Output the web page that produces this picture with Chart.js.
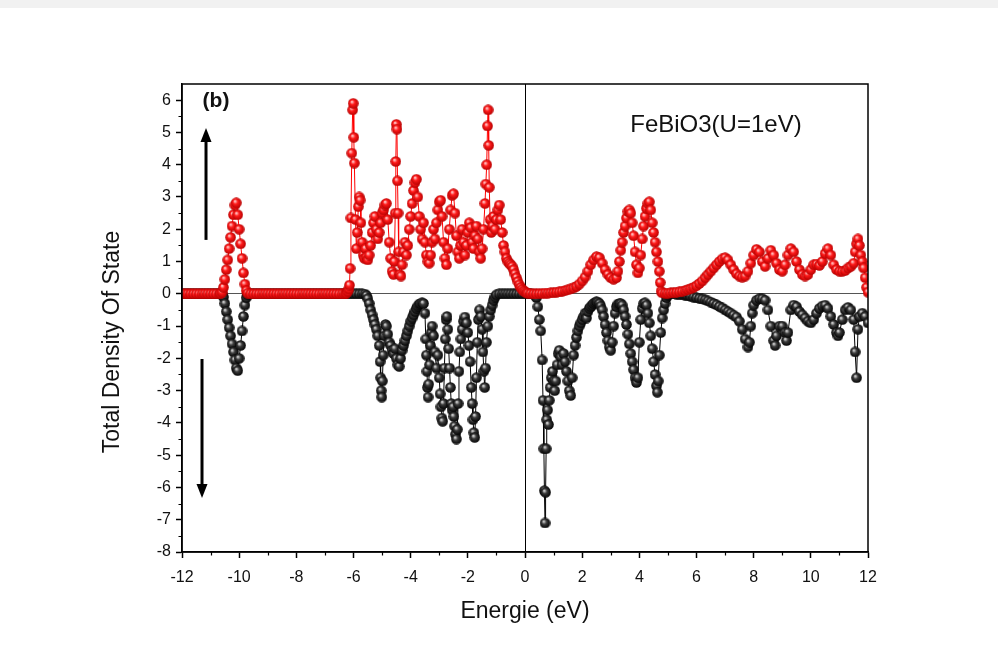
<!DOCTYPE html>
<html>
<head>
<meta charset="utf-8">
<title>FeBiO3 total DOS</title>
<script src="https://cdn.jsdelivr.net/npm/chart.js@4.4.1/dist/chart.umd.min.js"></script>
<style>
  html, body { margin: 0; padding: 0; background: #fff; }
  #strip { position: absolute; left: 0; top: 0; width: 998px; height: 8px; background: #f1f1f1; }
  #wrap { position: absolute; left: 0; top: 0; width: 998px; height: 657px; }
</style>
</head>
<body>
<div id="strip"></div>
<div id="wrap"><canvas id="dosChart"></canvas></div>
<script>
// spin up (red) - energy in eV and DOS
const upEnergy = [
  -12.0, -11.9, -11.8, -11.7, -11.6, -11.5, -11.4, -11.3, -11.2, -11.1,
  -11.0, -10.9, -10.8, -10.7, -10.65,
  -10.6, -10.55, -10.5, -10.45, -10.4, -10.35, -10.3, -10.25, -10.2, -10.15,
  -10.1, -10.05, -10.0, -9.95, -9.9, -9.85, -9.8, -9.75, -9.7, -9.6,
  -9.5, -9.4, -9.3, -9.2, -9.1, -9.0, -8.9, -8.8, -8.7, -8.6,
  -8.5, -8.4, -8.3, -8.2, -8.1, -8.0, -7.9, -7.8, -7.7, -7.6,
  -7.5, -7.4, -7.3, -7.2, -7.1, -7.0, -6.9, -6.8, -6.7, -6.6,
  -6.5, -6.4, -6.3, -6.25, -6.2, -6.16, -6.14, -6.12, -6.09, -6.06,
  -6.03, -6.01, -5.99, -5.97, -5.93, -5.9, -5.87, -5.83, -5.8, -5.77,
  -5.74, -5.7, -5.66, -5.62, -5.58, -5.54, -5.5, -5.45, -5.4, -5.35,
  -5.3, -5.25, -5.2, -5.15, -5.1, -5.05, -5.0, -4.95, -4.9, -4.85,
  -4.8, -4.75, -4.7, -4.65, -4.6, -4.57, -4.54, -4.52, -4.5, -4.48,
  -4.46, -4.44, -4.42, -4.38, -4.34, -4.3, -4.25, -4.2, -4.15, -4.1,
  -4.05, -4.0, -3.95, -3.9, -3.85, -3.8, -3.75, -3.7, -3.65, -3.6,
  -3.55, -3.5, -3.45, -3.4, -3.35, -3.3, -3.25, -3.2, -3.15, -3.1,
  -3.05, -3.0, -2.95, -2.9, -2.85, -2.8, -2.75, -2.7, -2.65, -2.6,
  -2.55, -2.5, -2.45, -2.4, -2.35, -2.3, -2.25, -2.2, -2.15, -2.1,
  -2.05, -2.0, -1.95, -1.9, -1.85, -1.8, -1.75, -1.7, -1.65, -1.6,
  -1.55, -1.5, -1.45, -1.4, -1.37, -1.34, -1.31, -1.29, -1.27, -1.25,
  -1.22, -1.18, -1.14, -1.1, -1.05, -1.0, -0.95, -0.9, -0.85, -0.8,
  -0.75, -0.7, -0.65, -0.6, -0.55, -0.5, -0.45, -0.4, -0.35, -0.3,
  -0.25, -0.2, -0.15, -0.1, -0.05, 0.0, 0.05, 0.1, 0.2, 0.3,
  0.4, 0.5, 0.6, 0.7, 0.8, 0.9, 1.0, 1.1, 1.2, 1.3,
  1.4, 1.5, 1.6, 1.7, 1.8, 1.9, 2.0, 2.1, 2.2, 2.3,
  2.4, 2.5, 2.6, 2.7, 2.8, 2.9, 3.0, 3.1, 3.2, 3.25,
  3.3, 3.35, 3.4, 3.45, 3.5, 3.55, 3.6, 3.65, 3.7, 3.75,
  3.8, 3.85, 3.9, 3.95, 4.0, 4.05, 4.1, 4.15, 4.2, 4.25,
  4.3, 4.35, 4.4, 4.45, 4.5, 4.55, 4.6, 4.65, 4.7, 4.73,
  4.76, 4.8, 4.9, 5.0, 5.1, 5.2, 5.3, 5.4, 5.5, 5.6,
  5.7, 5.8, 5.9, 6.0, 6.1, 6.2, 6.3, 6.4, 6.5, 6.6,
  6.7, 6.8, 6.9, 7.0, 7.1, 7.2, 7.3, 7.4, 7.5, 7.6,
  7.7, 7.8, 7.9, 8.0, 8.1, 8.2, 8.3, 8.4, 8.5, 8.6,
  8.7, 8.8, 8.9, 9.0, 9.1, 9.2, 9.3, 9.4, 9.5, 9.6,
  9.7, 9.8, 9.9, 10.0, 10.1, 10.2, 10.3, 10.4, 10.5, 10.6,
  10.7, 10.8, 10.9, 11.0, 11.1, 11.2, 11.3, 11.4, 11.5, 11.55,
  11.6, 11.65, 11.7, 11.75, 11.8, 11.85, 11.9, 11.95, 12.0
];
const upDOS = [
  0, 0, 0, 0, 0, 0, 0, 0, 0, 0,
  0, 0, 0, 0, 0.01,
  0.05, 0.2, 0.45, 0.75, 1.05, 1.4, 1.75, 2.1, 2.45, 2.75,
  2.82, 2.45, 2.0, 1.55, 1.1, 0.65, 0.3, 0.1, 0.02, 0,
  0, 0, 0, 0, 0, 0, 0, 0, 0, 0,
  0, 0, 0, 0, 0, 0, 0, 0, 0, 0,
  0, 0, 0, 0, 0, 0, 0, 0, 0, 0,
  0, 0, 0, 0.02, 0.08, 0.15, 0.27, 0.79, 2.35, 4.36,
  5.7, 5.9, 4.85, 4.05, 2.3, 1.4, 1.9, 2.7, 3.0, 2.9,
  2.2, 1.6, 1.2, 1.1, 1.4, 1.15, 1.05, 1.2, 1.5, 1.9,
  2.2, 2.4, 2.0, 1.7, 1.9, 2.2, 2.5, 2.6, 2.75, 2.8,
  2.3, 1.6, 1.1, 0.7, 0.6, 1.0, 2.5, 4.1, 5.25, 5.1,
  3.5, 2.5, 1.3, 0.6, 0.55, 0.9, 1.3, 1.6, 1.2, 1.5,
  2.0, 2.4, 2.8, 3.2, 3.45, 3.55, 3.0, 2.4, 2.0, 1.7,
  2.2, 1.6, 1.2, 1.0, 0.95, 1.2, 1.6, 2.0, 1.7, 2.2,
  2.6, 2.85, 2.9, 2.4, 1.6, 1.1, 0.9, 1.4, 2.0, 2.6,
  3.05, 3.1, 2.5, 1.8, 1.3, 1.1, 1.5, 2.0, 1.6, 1.2,
  1.5, 1.9, 2.2, 2.05, 1.6, 1.4, 1.8, 2.1, 1.7, 1.3,
  1.1, 1.4, 2.0, 2.8, 3.4, 4.0, 5.2, 5.7, 4.6, 3.3,
  2.3, 1.9, 2.1, 2.4, 2.0, 2.3, 2.6, 2.75, 2.3, 1.9,
  1.5, 1.3, 1.1, 1.0, 0.95, 0.9, 0.85, 0.75, 0.62, 0.5,
  0.38, 0.28, 0.2, 0.14, 0.09, 0.06, 0.03, 0.02, 0.01, 0,
  0, 0.01, 0.01, 0.02, 0.02, 0.03, 0.04, 0.05, 0.06, 0.08,
  0.1, 0.12, 0.15, 0.18, 0.23, 0.3, 0.4, 0.52, 0.7, 0.9,
  1.05, 1.15, 1.12, 0.95, 0.75, 0.6, 0.5, 0.45, 0.5, 0.7,
  1.0, 1.35, 1.6, 1.9, 2.1, 2.35, 2.55, 2.6, 2.5, 2.2,
  1.8, 1.3, 0.9, 0.65, 0.8, 1.2, 1.7, 2.1, 2.4, 2.65,
  2.8, 2.85, 2.6, 2.2, 1.9, 1.6, 1.3, 1.0, 0.7, 0.35,
  0.08, 0.03, 0.02, 0.02, 0.03, 0.04, 0.05, 0.06, 0.08, 0.1,
  0.13, 0.16, 0.2, 0.25, 0.32, 0.4, 0.5, 0.6, 0.7, 0.8,
  0.9, 1.0, 1.08, 1.12, 1.05, 0.9, 0.75, 0.62, 0.55, 0.52,
  0.55, 0.7, 0.95, 1.2, 1.38, 1.3, 1.0, 0.85, 1.1, 1.35,
  1.2, 0.95, 0.75, 0.7, 0.9, 1.2, 1.4, 1.3, 1.0, 0.75,
  0.6, 0.55, 0.6, 0.75, 0.9, 0.92, 0.88, 1.0, 1.25, 1.4,
  1.2, 0.9, 0.75, 0.7, 0.7, 0.72, 0.8, 0.85, 0.95, 1.3,
  1.55, 1.7, 1.5, 1.2, 1.0, 0.8, 0.5, 0.2, 0.05
];

// spin down (black)
const downEnergy = [
  -12.0, -11.9, -11.8, -11.7, -11.6, -11.5, -11.4, -11.3, -11.2, -11.1,
  -11.0, -10.9, -10.8, -10.7, -10.6,
  -10.55, -10.5, -10.45, -10.4, -10.35, -10.3, -10.25, -10.2, -10.15, -10.1,
  -10.05, -10.0, -9.95, -9.9, -9.85, -9.8, -9.75, -9.7, -9.6, -9.5,
  -9.4, -9.3, -9.2, -9.1, -9.0, -8.9, -8.8, -8.7, -8.6, -8.5,
  -8.4, -8.3, -8.2, -8.1, -8.0, -7.9, -7.8, -7.7, -7.6, -7.5,
  -7.4, -7.3, -7.2, -7.1, -7.0, -6.9, -6.8, -6.7, -6.6, -6.5,
  -6.4, -6.3, -6.2, -6.1, -6.0, -5.9, -5.8, -5.7, -5.6, -5.55,
  -5.5, -5.45, -5.4, -5.35, -5.3, -5.25, -5.2, -5.15, -5.1, -5.07,
  -5.05, -5.03, -5.01, -4.99, -4.96, -4.92, -4.88, -4.85, -4.8, -4.75,
  -4.7, -4.65, -4.6, -4.55, -4.5, -4.45, -4.4, -4.35, -4.3, -4.25,
  -4.2, -4.15, -4.1, -4.05, -4.0, -3.95, -3.9, -3.85, -3.8, -3.75,
  -3.7, -3.65, -3.6, -3.55, -3.5, -3.47, -3.45, -3.43, -3.41, -3.39,
  -3.37, -3.34, -3.31, -3.28, -3.25, -3.2, -3.15, -3.1, -3.05, -3.0,
  -2.97, -2.94, -2.91, -2.88, -2.85, -2.82, -2.79, -2.76, -2.73, -2.7,
  -2.67, -2.64, -2.61, -2.58, -2.55, -2.52, -2.49, -2.46, -2.43, -2.4,
  -2.37, -2.34, -2.31, -2.28, -2.24, -2.2, -2.15, -2.1, -2.05, -2.0,
  -1.96, -1.92, -1.88, -1.85, -1.82, -1.79, -1.76, -1.73, -1.7, -1.67,
  -1.63, -1.59, -1.55, -1.5, -1.47, -1.44, -1.41, -1.38, -1.35, -1.3,
  -1.25, -1.2, -1.15, -1.1, -1.05, -1.0, -0.9, -0.8, -0.7, -0.6,
  -0.5, -0.4, -0.3, -0.2, -0.1, 0.0, 0.1, 0.2, 0.3, 0.35,
  0.4, 0.45, 0.5, 0.55, 0.6, 0.63, 0.66, 0.68, 0.7, 0.72,
  0.74, 0.76, 0.79, 0.82, 0.85, 0.88, 0.92, 0.96, 1.0, 1.04,
  1.08, 1.12, 1.16, 1.2, 1.25, 1.3, 1.35, 1.4, 1.45, 1.5,
  1.55, 1.6, 1.65, 1.7, 1.75, 1.8, 1.85, 1.9, 1.95, 2.0,
  2.05, 2.1, 2.15, 2.2, 2.25, 2.3, 2.35, 2.4, 2.45, 2.5,
  2.55, 2.6, 2.65, 2.7, 2.75, 2.8, 2.85, 2.9, 2.95, 3.0,
  3.05, 3.1, 3.15, 3.2, 3.25, 3.3, 3.35, 3.4, 3.45, 3.5,
  3.55, 3.6, 3.65, 3.7, 3.75, 3.8, 3.85, 3.9, 3.95, 4.0,
  4.05, 4.1, 4.15, 4.2, 4.25, 4.3, 4.35, 4.4, 4.45, 4.5,
  4.55, 4.6, 4.63, 4.66, 4.7, 4.75, 4.8, 4.85, 4.9, 4.95,
  5.0, 5.1, 5.2, 5.3, 5.4, 5.5, 5.6, 5.7, 5.8, 5.9,
  6.0, 6.1, 6.2, 6.3, 6.4, 6.5, 6.6, 6.7, 6.8, 6.9,
  7.0, 7.1, 7.2, 7.3, 7.4, 7.5, 7.6, 7.7, 7.8, 7.85,
  7.9, 7.95, 8.0, 8.1, 8.2, 8.3, 8.4, 8.5, 8.6, 8.7,
  8.75, 8.8, 8.9, 9.0, 9.1, 9.15, 9.2, 9.3, 9.4, 9.5,
  9.6, 9.7, 9.8, 9.9, 10.0, 10.1, 10.2, 10.3, 10.4, 10.5,
  10.6, 10.7, 10.8, 10.9, 10.95, 11.0, 11.1, 11.2, 11.3, 11.4,
  11.5, 11.55, 11.6, 11.65, 11.7, 11.8, 11.9, 12.0
];
const downDOS = [
  0, 0, 0, 0, 0, 0, 0, 0, 0, 0,
  0, 0, 0, 0, -0.02,
  -0.1, -0.3, -0.55, -0.8, -1.05, -1.3, -1.55, -1.8, -2.05, -2.3,
  -2.38, -2.0, -1.6, -1.15, -0.7, -0.35, -0.12, -0.03, 0, 0,
  0, 0, 0, 0, 0, 0, 0, 0, 0, 0,
  0, 0, 0, 0, 0, 0, 0, 0, 0, 0,
  0, 0, 0, 0, 0, 0, 0, 0, 0, 0,
  0, 0, 0, 0, 0, 0, 0, 0, -0.01, -0.05,
  -0.15, -0.3, -0.5, -0.65, -0.8, -0.95, -1.1, -1.3, -1.6, -2.1,
  -2.6, -3.0, -3.2, -2.7, -1.9, -1.3, -0.95, -1.0, -1.25, -1.5,
  -1.6, -1.75, -1.85, -1.7, -2.0, -2.2, -2.25, -2.0, -1.75, -1.6,
  -1.45, -1.3, -1.15, -1.0, -0.85, -0.75, -0.65, -0.55, -0.45, -0.38,
  -0.32, -0.3, -0.28, -0.3, -0.6, -1.4, -1.9, -2.4, -2.9, -3.2,
  -2.8, -2.2, -1.6, -1.2, -1.0, -1.3, -1.8, -2.3, -1.9, -2.6,
  -3.1, -3.5, -3.85, -3.95, -3.4, -2.3, -1.4, -0.8, -0.7, -1.1,
  -1.7, -2.3, -2.9, -3.4, -3.6, -3.5, -3.8, -4.1, -4.35, -4.5,
  -4.2, -3.4, -2.4, -1.8, -1.4, -1.1, -0.85, -0.72, -0.9, -1.2,
  -1.6, -2.1, -2.9, -3.4, -3.9, -4.3, -4.45, -3.8, -2.6, -1.5,
  -0.8, -0.5, -0.7, -1.1, -1.8, -2.4, -2.9, -2.3, -1.5, -1.0,
  -0.7, -0.5, -0.35, -0.2, -0.1, -0.03, 0, 0, 0, 0,
  0, 0, 0, 0, 0, 0, 0, 0, -0.01, -0.03,
  -0.12, -0.4, -0.8, -1.15, -2.05, -3.3, -4.8, -6.1, -7.1, -6.15,
  -4.8, -3.9, -3.6, -4.05, -3.3, -2.9, -2.6, -2.4, -2.7, -3.0,
  -2.7, -2.2, -1.85, -1.75, -1.95, -2.2, -1.85, -2.1, -2.4, -2.7,
  -3.0, -3.15, -2.6, -1.9, -1.6, -1.35, -1.15, -1.0, -0.9, -0.8,
  -0.7, -0.6, -0.75, -0.55, -0.45, -0.4, -0.35, -0.3, -0.27, -0.25,
  -0.26, -0.3, -0.38, -0.5, -0.7, -0.95, -1.2, -1.45, -1.65, -1.75,
  -1.5, -1.0, -0.6, -0.4, -0.32, -0.3, -0.3, -0.35, -0.5, -0.7,
  -0.95, -1.25, -1.55, -1.85, -2.1, -2.35, -2.6, -2.75, -2.6, -1.5,
  -0.8, -0.45, -0.3, -0.28, -0.35, -0.6, -0.9, -1.3, -1.7, -2.1,
  -2.5, -2.85, -3.05, -2.7, -1.9, -1.2, -0.75, -0.5, -0.3, -0.12,
  -0.04, 0, 0, -0.01, -0.02, -0.03, -0.04, -0.06, -0.08, -0.1,
  -0.12, -0.14, -0.16, -0.19, -0.22, -0.26, -0.3, -0.34, -0.39, -0.44,
  -0.5, -0.55, -0.6, -0.66, -0.72, -0.85, -1.1, -1.4, -1.65, -1.5,
  -1.0, -0.6, -0.35, -0.2, -0.15, -0.15, -0.2, -0.5, -1.0, -1.45,
  -1.6, -1.3, -1.0, -1.0, -1.2, -1.45, -1.2, -0.5, -0.35, -0.4,
  -0.55, -0.65, -0.75, -0.85, -0.9, -0.8, -0.6, -0.45, -0.38, -0.35,
  -0.45, -0.7, -0.95, -1.2, -1.3, -1.2, -0.8, -0.5, -0.42, -0.5,
  -0.8, -1.8, -2.6, -1.1, -0.7, -0.6, -0.7, -0.9
];

// axes
const xTicks = [-12, -10, -8, -6, -4, -2, 0, 2, 4, 6, 8, 10, 12];
const xMinorTicks = [-11, -9, -7, -5, -3, -1, 1, 3, 5, 7, 9, 11];
const yTicks = [-8, -7, -6, -5, -4, -3, -2, -1, 0, 1, 2, 3, 4, 5, 6];
const yMinorTicks = [-7.5, -6.5, -5.5, -4.5, -3.5, -2.5, -1.5, -0.5, 0.5, 1.5, 2.5, 3.5, 4.5, 5.5];
const xTitle = 'Energie (eV)';
const yTitle = 'Total Density Of State';

// annotations (data coordinates)
const arrowX = [-11.16, -11.3];
const arrowFrom = [1.67, -2.02];
const arrowTo = [5.14, -6.33];
const panelLabel = { text: '(b)', x: -10.81, y: 5.97 };
const systemLabel = { text: 'FeBiO3(U=1eV)', x: 6.68, y: 5.23 };

const FONT = "'Liberation Sans', Arial, sans-serif";
Chart.defaults.font.family = FONT;
Chart.defaults.color = '#111';

function sphere(light, mid, dark) {
  const c = document.createElement('canvas');
  c.width = 11; c.height = 11;
  const g = c.getContext('2d');
  const grad = g.createRadialGradient(4, 3.8, 0.3, 5.5, 5.5, 5.5);
  grad.addColorStop(0, light);
  grad.addColorStop(0.4, mid);
  grad.addColorStop(1, dark);
  g.fillStyle = grad;
  g.beginPath();
  g.arc(5.5, 5.5, 5.3, 0, Math.PI * 2);
  g.fill();
  return c;
}
const redBall = sphere('#ffd6d6', '#ff1a1a', '#b30000');
const blackBall = sphere('#e0e0e0', '#3a3a3a', '#000');

const decor = {
  id: 'decor',
  afterDraw(chart) {
    const { ctx, chartArea: a, scales: { x, y } } = chart;
    ctx.save();
    // frame
    ctx.strokeStyle = '#000';
    ctx.lineWidth = 1.5;
    ctx.strokeRect(a.left, a.top, a.right - a.left, a.bottom - a.top);
    // minor ticks
    ctx.lineWidth = 1.2;
    ctx.beginPath();
    xMinorTicks.forEach(v => {
      const px = Math.round(x.getPixelForValue(v)) + 0.5;
      ctx.moveTo(px, a.bottom); ctx.lineTo(px, a.bottom + 3.5);
    });
    yMinorTicks.forEach(v => {
      const py = Math.round(y.getPixelForValue(v)) + 0.5;
      ctx.moveTo(a.left, py); ctx.lineTo(a.left - 3.5, py);
    });
    ctx.stroke();
    // spin arrows
    ctx.fillStyle = '#000';
    arrowX.forEach((v, i) => {
      const px = x.getPixelForValue(v);
      const p0 = y.getPixelForValue(arrowFrom[i]);
      const p1 = y.getPixelForValue(arrowTo[i]);
      const dir = p1 < p0 ? 1 : -1;
      ctx.lineWidth = 3;
      ctx.beginPath();
      ctx.moveTo(px, p0); ctx.lineTo(px, p1 + dir * 10);
      ctx.stroke();
      ctx.beginPath();
      ctx.moveTo(px, p1);
      ctx.lineTo(px - 5.5, p1 + dir * 14);
      ctx.lineTo(px + 5.5, p1 + dir * 14);
      ctx.closePath();
      ctx.fill();
    });
    // labels
    ctx.fillStyle = '#111';
    ctx.textAlign = 'center';
    ctx.textBaseline = 'middle';
    ctx.font = 'bold 21px ' + FONT;
    ctx.fillText(panelLabel.text, x.getPixelForValue(panelLabel.x), y.getPixelForValue(panelLabel.y));
    ctx.font = '24px ' + FONT;
    ctx.fillText(systemLabel.text, x.getPixelForValue(systemLabel.x), y.getPixelForValue(systemLabel.y));
    // y axis title
    ctx.font = '23px ' + FONT;
    ctx.translate(113, (a.top + a.bottom) / 2 + 24);
    ctx.rotate(-Math.PI / 2);
    ctx.fillText(yTitle, 0, 0);
    ctx.restore();
  }
};

new Chart(document.getElementById('dosChart'), {
  type: 'line',
  data: {
    datasets: [
      {
        label: 'Spin up',
        data: upEnergy.map((e, i) => ({ x: e, y: upDOS[i] })),
        borderColor: '#ff0000',
        borderWidth: 1,
        pointStyle: redBall,
        pointRadius: 5,
        tension: 0
      },
      {
        label: 'Spin down',
        data: downEnergy.map((e, i) => ({ x: e, y: downDOS[i] })),
        borderColor: '#000',
        borderWidth: 1,
        pointStyle: blackBall,
        pointRadius: 5,
        tension: 0
      }
    ]
  },
  options: {
    responsive: true,
    maintainAspectRatio: false,
    animation: false,
    events: [],
    layout: { padding: { left: 100, top: 84, right: 130, bottom: 32 } },
    plugins: { legend: { display: false }, tooltip: { enabled: false } },
    scales: {
      x: {
        type: 'linear',
        min: -12,
        max: 12,
        afterBuildTicks: s => { s.ticks = xTicks.map(v => ({ value: v })); },
        afterFit: s => { s.height = 73; },
        ticks: { font: { size: 16 }, padding: 10, maxRotation: 0, autoSkip: false, callback: v => String(v) },
        grid: {
          color: c => (c.tick && c.tick.value === 0 ? '#000' : 'rgba(0,0,0,0)'),
          tickColor: '#000',
          tickLength: 6,
          tickWidth: 1.5
        },
        border: { color: '#000', width: 1.5 },
        title: { display: true, text: xTitle, font: { size: 23 }, padding: 0 }
      },
      y: {
        type: 'linear',
        min: -8,
        max: 6.5,
        afterBuildTicks: s => { s.ticks = yTicks.map(v => ({ value: v })); },
        afterFit: s => { s.width = 82; },
        ticks: { font: { size: 16 }, padding: 5, callback: v => String(v) },
        grid: {
          color: c => (c.tick && c.tick.value === 0 ? '#555' : 'rgba(0,0,0,0)'),
          tickColor: '#000',
          tickLength: 6,
          tickWidth: 1.5
        },
        border: { color: '#000', width: 1.5 }
      }
    }
  },
  plugins: [decor]
});
</script>
</body>
</html>
